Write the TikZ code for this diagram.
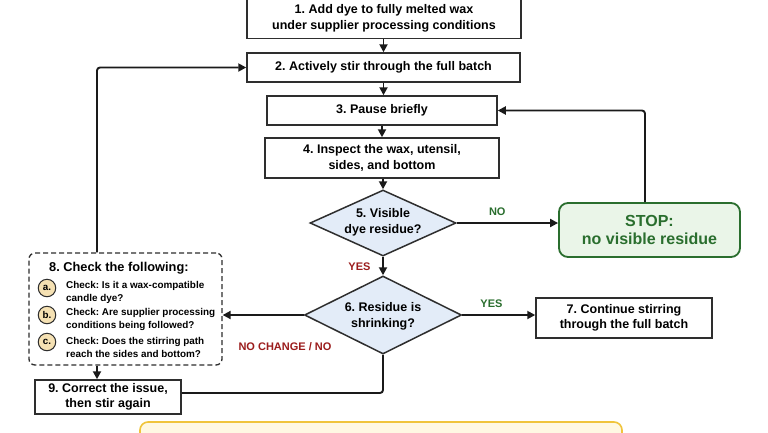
\documentclass[tikz,border=0pt]{standalone}
\usepackage{fontspec}
\setmainfont{Liberation Sans}
\frenchspacing
\usetikzlibrary{shapes.geometric,arrows.meta,calc}
\definecolor{edgec}{HTML}{1A1A1A}
\definecolor{boxc}{HTML}{2E2E2E}
\definecolor{dfill}{HTML}{E3ECF8}
\definecolor{gtext}{HTML}{2A6E2E}
\definecolor{gfill}{HTML}{EAF5E8}
\definecolor{rtext}{HTML}{9B1C1C}
\definecolor{cfill}{HTML}{F5E1B3}
\definecolor{yfill}{HTML}{FFF8E3}
\definecolor{ybord}{HTML}{F0C43C}
\tikzset{
  stepbox/.style={draw=boxc, line width=1.5pt, fill=white, align=center, inner sep=0pt,
    font=\fontsize{12.5}{15.5}\selectfont\bfseries},
  decision/.style={diamond, draw=boxc, line width=1.5pt, fill=dfill, inner sep=0pt},
  dtext/.style={align=center, inner sep=0pt, font=\fontsize{12.5}{16}\selectfont\bfseries},
  arr/.style={draw=edgec, line width=1.9pt, -{Triangle[length=8pt,width=8pt]}, rounded corners=3pt},
  plainline/.style={draw=edgec, line width=1.9pt, rounded corners=3pt},
  glabel/.style={text=gtext, font=\fontsize{11}{12}\selectfont\bfseries},
  rlabel/.style={text=rtext, font=\fontsize{11}{12}\selectfont\bfseries},
  itemdot/.style={circle, draw=boxc, line width=1pt, fill=cfill, minimum size=17.5pt, inner sep=0pt,
    font=\fontsize{9.8}{10}\selectfont\bfseries},
  itemtext/.style={anchor=west, align=left, inner sep=0pt, font=\fontsize{9.9}{13}\selectfont\bfseries}
}
\begin{document}
\begin{tikzpicture}[x=1pt, y=-1pt]
\useasboundingbox (0,0) rectangle (768,432);
\clip (0,0) rectangle (768,432);
\fill[white] (0,0) rectangle (768,432);

% nodes
\node[stepbox, minimum width=274pt, minimum height=40pt] (b1) at (384,18.5)
  {1. Add dye to fully melted wax\\under supplier processing conditions};
\node[stepbox, minimum width=273pt, minimum height=29pt] (b2) at (383.5,67.5)
  {2. Actively stir through the full batch};
\node[stepbox, minimum width=230pt, minimum height=29pt] (b3) at (382,110.5)
  {3. Pause briefly};
\node[stepbox, minimum width=234pt, minimum height=40pt] (b4) at (382,158)
  {4. Inspect the wax, utensil,\\sides, and bottom};
\node[decision, minimum width=146pt, minimum height=66pt] (d5) at (383,223) {};
\node[dtext] (d5t) at (383,222) {5. Visible\\dye residue?};
\node[draw=gtext, line width=1.8pt, fill=gfill, rounded corners=9pt, align=center, inner sep=0pt,
  minimum width=181pt, minimum height=54pt, text=gtext,
  font=\fontsize{16}{18.5}\selectfont\bfseries] (stop) at (649.5,230)
  {STOP:\\no visible residue};
\node[decision, minimum width=157pt, minimum height=78pt] (d6) at (383,315) {};
\node[dtext] (d6t) at (383,316) {6. Residue is\\shrinking?};
\node[stepbox, minimum width=176pt, minimum height=40pt] (b7) at (624,318)
  {7. Continue stirring\\through the full batch};
\node[draw=boxc, line width=1.3pt, dash pattern=on 5pt off 3pt, rounded corners=6pt,
  minimum width=193pt, minimum height=112pt, inner sep=0pt] (b8) at (125.5,309) {};
\node[anchor=west, inner sep=0pt, font=\fontsize{12.8}{14}\selectfont\bfseries] (b8t) at (49,268)
  {8. Check the following:};
\node[itemdot] (ia) at (47,288) {a.};
\node[itemdot] (ib) at (47,315) {b.};
\node[itemdot] (ic) at (47,342) {c.};
\node[itemtext] (ta) at (66,292) {Check: Is it a wax-compatible\\candle dye?};
\node[itemtext] (tb) at (66,319) {Check: Are supplier processing\\conditions being followed?};
\node[itemtext] (tc) at (66,347) {Check: Does the stirring path\\reach the sides and bottom?};
\node[stepbox, minimum width=146pt, minimum height=34pt] (b9) at (108,397)
  {9. Correct the issue,\\then stir again};
\node[draw=ybord, line width=1.6pt, fill=yfill, rounded corners=8pt, minimum width=482pt,
  minimum height=30pt, inner sep=0pt] (note) at (381,437) {};

% connectors
\draw[arr] (b1.south -| b2.north) -- (b2.north);
\draw[arr] (b2.south) -- (b2.south |- b3.north);
\draw[arr] (b3.south) -- (b4.north);
\draw[arr] (b4.south -| d5.north) -- (d5.north);
\draw[arr] (d5.east) -- (d5.east -| stop.west)
  node[glabel, pos=0.4, above=3pt] (lno) {NO};
\draw[arr] ([xshift=-4.5pt]stop.north) |- (b3.east);
\draw[arr] (d5.south) -- (d6.north);
\node[rlabel, anchor=east] (lyes5) at (374,267) {YES};
\draw[arr] (d6.east) -- (d6.east -| b7.west)
  node[glabel, pos=0.4, above=3pt] (lyes6) {YES};
\draw[arr] (d6.west) -- (d6.west -| b8.east);
\node[rlabel, anchor=west] (lnc) at (235,347) {NO CHANGE / NO};
\draw[arr] ([xshift=-28.5pt]b8.north) |- (b2.west);
\draw[arr] ([xshift=-28.5pt]b8.south) -- ([xshift=-28.5pt]b8.south |- b9.north);
\draw[plainline] ([yshift=4pt]b9.east) -| (d6.south);
\end{tikzpicture}
\end{document}
